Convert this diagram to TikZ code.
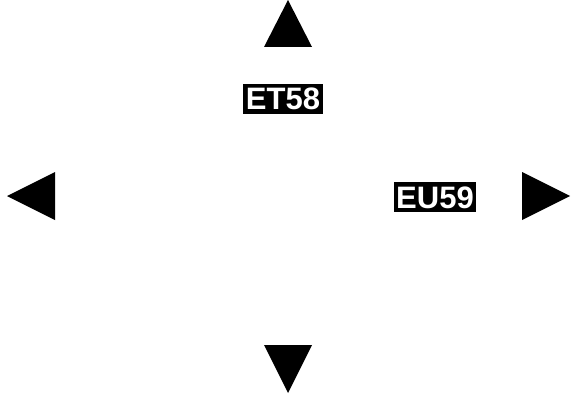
\documentclass[tikz,border=0pt]{standalone}
\usepackage{fontspec}
\setmainfont{Liberation Sans}
\begin{document}
\begin{tikzpicture}[x=1pt,y=-1pt,
  tag/.style={fill=black,text=white,font=\bfseries\fontsize{31pt}{31pt}\selectfont,
    inner xsep=2.5pt,inner ysep=4pt,text height=22pt,text depth=0pt,minimum height=30pt},
  tri/.style={fill=black}]
\useasboundingbox (0,0) rectangle (572,393);
\fill[tri] (288,0) -- (312,47) -- (264,47) -- cycle;
\fill[tri] (7,196) -- (55,172) -- (55,220) -- cycle;
\fill[tri] (570,196) -- (522,172) -- (522,220) -- cycle;
\fill[tri] (288,393) -- (312,345) -- (264,345) -- cycle;
\node[tag] (et) at (283,99) {ET58};
\node[tag] (eu) at (435,197) {EU59};
\end{tikzpicture}
\end{document}
